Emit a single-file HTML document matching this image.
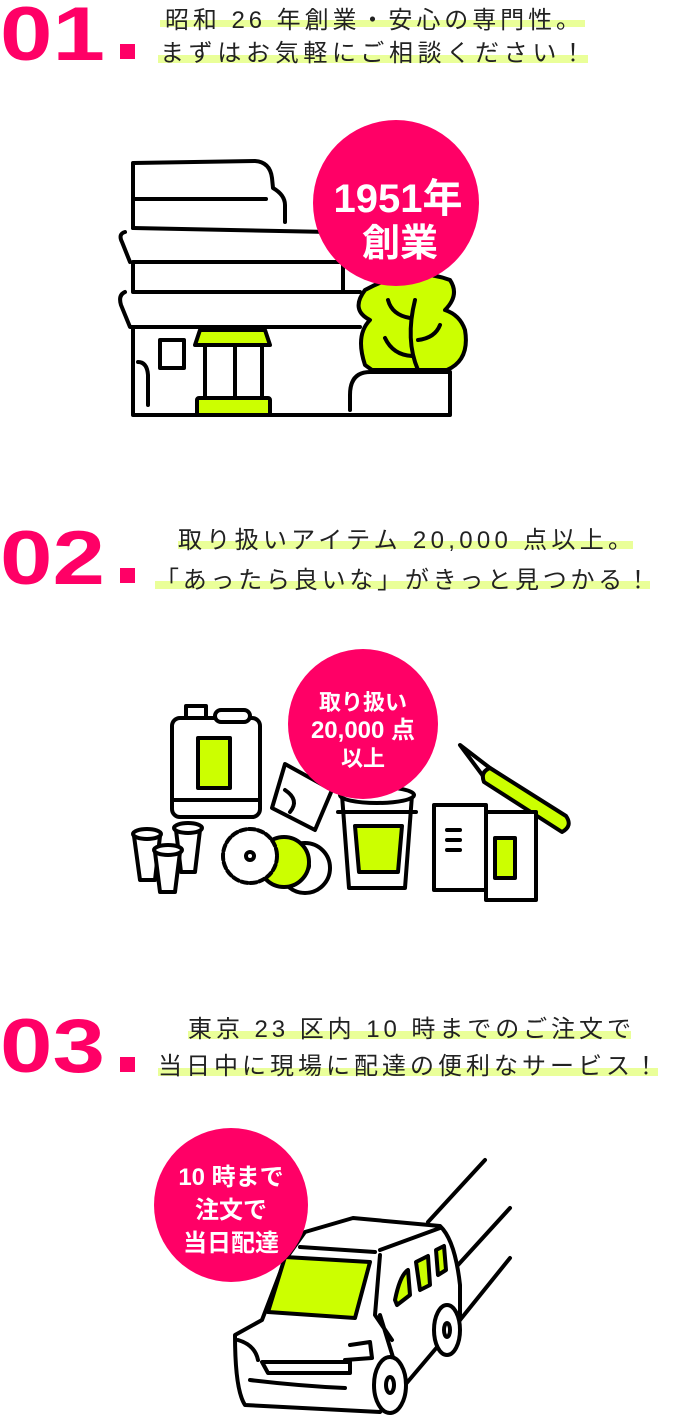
<!DOCTYPE html>
<html><head><meta charset="utf-8"><style>
html,body{margin:0;padding:0;background:#fff;}
svg{display:block;}
text{font-family:"Liberation Sans","Noto Sans CJK JP",sans-serif;}
.jp{font-size:24px;fill:#222;}
.num{font-size:76px;font-weight:bold;fill:#ff0066;}
.bt{font-family:"Liberation Sans","Noto Sans CJK JP",sans-serif;font-weight:bold;fill:#fff;}
.s{fill:none;stroke:#000;stroke-width:4;stroke-linecap:round;stroke-linejoin:round;}
.w{fill:#fff;stroke:#000;stroke-width:4;stroke-linecap:round;stroke-linejoin:round;}
.l{fill:#ccff00;stroke:#000;stroke-width:4;stroke-linecap:round;stroke-linejoin:round;}
</style></head><body>
<svg width="690" height="1422" viewBox="0 0 690 1422" xmlns="http://www.w3.org/2000/svg">
<!-- 01 header -->
<rect x="160" y="20" width="425" height="7" fill="#eaff99"/>
<rect x="158" y="55" width="430" height="8" fill="#eaff99"/>
<text class="num" x="0" y="60" textLength="105" lengthAdjust="spacingAndGlyphs">01</text>
<rect x="120" y="44" width="15" height="15" fill="#ff0066"/>
<text class="jp" x="165" y="28" textLength="415" lengthAdjust="spacing">昭和 26 年創業・安心の専門性。</text>
<text class="jp" x="160" y="61" textLength="425" lengthAdjust="spacing">まずはお気軽にご相談ください！</text>

<!-- building -->
<path class="s" d="M133,228 V163 L255,161 Q270,162 272,178 L273,188 Q285,195 285,205 V222"/>
<path class="s" d="M133,199 H266"/>
<path class="s" d="M133,228 L330,232"/>
<path class="s" d="M125,232 Q118,234 122,242 L130,262"/>
<path class="s" d="M133,262 H340 M133,262 V292 M133,292 H360 M343,262 V290"/>
<path class="s" d="M125,292 Q118,295 121,305 L130,327 H360"/>
<path class="s" d="M133,327 V415 H450 V372 H370 Q350,372 350,395 V410"/>
<path class="s" d="M138,362 Q147,362 148,375 V405"/>
<rect class="s" x="160" y="340" width="24" height="28"/>
<path class="l" d="M200,330 H265 L270,345 H195 Z"/>
<path class="s" d="M205,345 V400 M235,345 V400 M262,345 V400"/>
<rect class="l" x="197" y="398" width="73" height="17" rx="2"/>
<path class="l" d="M365,290 Q350,310 370,320 Q355,335 365,365 L372,370 H447 Q470,360 465,330 Q460,315 445,310 Q460,295 450,280 Q410,265 365,290 Z"/>
<path class="s" d="M388,300 Q392,315 410,318 M385,338 Q393,355 412,356 M415,300 Q405,340 418,370 M418,340 Q435,338 440,325"/>
<circle cx="396" cy="203" r="83" fill="#ff0066"/>
<text class="bt" x="398" y="212" font-size="40" text-anchor="middle">1951年</text>
<text class="bt" x="400" y="256" font-size="38" text-anchor="middle">創業</text>

<!-- 02 header -->
<rect x="178" y="541" width="455" height="8" fill="#eaff99"/>
<rect x="155" y="581" width="495" height="8" fill="#eaff99"/>
<text class="num" x="0" y="584" textLength="105" lengthAdjust="spacingAndGlyphs">02</text>
<rect x="120" y="568" width="15" height="15" fill="#ff0066"/>
<text class="jp" x="178" y="548" textLength="454" lengthAdjust="spacing">取り扱いアイテム 20,000 点以上。</text>
<text class="jp" x="155" y="588" textLength="495" lengthAdjust="spacing">「あったら良いな」がきっと見つかる！</text>

<!-- items -->
<rect class="w" x="172" y="718" width="88" height="99" rx="8"/>
<path class="s" d="M172,800 H260"/>
<rect class="w" x="186" y="706" width="20" height="12"/>
<rect class="w" x="215" y="710" width="35" height="12" rx="6"/>
<rect class="l" x="198" y="738" width="32" height="50"/>
<g>
<path class="w" d="M134,836 L140,880 H155 L160,836 Z"/><ellipse class="w" cx="147" cy="834" rx="14" ry="5"/>
<path class="w" d="M176,830 L181,872 H195 L200,830 Z"/><ellipse class="w" cx="188" cy="828" rx="14" ry="5"/>
<path class="w" d="M155,852 L160,892 H175 L180,852 Z"/><ellipse class="w" cx="168" cy="850" rx="14" ry="5"/>
</g>
<circle class="w" cx="305" cy="868" r="25"/><circle class="s" cx="305" cy="866" r="4"/>
<circle class="l" cx="284" cy="862" r="25"/>
<circle class="w" cx="250" cy="856" r="27" stroke-dasharray="6 3"/>
<circle class="s" cx="250" cy="856" r="4"/>
<path class="w" d="M285,764 L332,790 L315,830 L272,808 Z"/>
<path class="s" d="M285,790 Q300,800 290,812"/>
<path class="w" d="M342,795 H412 L405,888 H349 Z"/>
<ellipse class="w" cx="377" cy="795" rx="37" ry="8"/>
<path class="s" d="M338,812 H416"/>
<path class="l" d="M355,826 H402 L398,872 H359 Z"/>
<path class="w" d="M460,745 L490,768 L566,818 Q572,828 562,830 L486,780 Z"/>
<path class="l" d="M490,768 L566,816 Q573,826 562,832 L484,782 Q480,772 490,768 Z"/>
<rect class="w" x="434" y="805" width="52" height="85"/>
<path class="s" d="M447,830 H460 M447,840 H460 M447,850 H460"/>
<rect class="w" x="486" y="812" width="50" height="88"/>
<rect class="l" x="495" y="838" width="20" height="40"/>

<circle cx="363" cy="724" r="75" fill="#ff0066"/>
<text class="bt" x="363" y="710" font-size="22" text-anchor="middle">取り扱い</text>
<text class="bt" x="363" y="738" font-size="24" text-anchor="middle">20,000 点</text>
<text class="bt" x="363" y="766" font-size="22" text-anchor="middle">以上</text>

<!-- 03 header -->
<rect x="188" y="1031" width="443" height="8" fill="#eaff99"/>
<rect x="158" y="1068" width="500" height="8" fill="#eaff99"/>
<text class="num" x="0" y="1072" textLength="105" lengthAdjust="spacingAndGlyphs">03</text>
<rect x="120" y="1057" width="15" height="15" fill="#ff0066"/>
<text class="jp" x="188" y="1037" textLength="443" lengthAdjust="spacing">東京 23 区内 10 時までのご注文で</text>
<text class="jp" x="158" y="1074" textLength="500" lengthAdjust="spacing">当日中に現場に配達の便利なサービス！</text>

<!-- van -->
<path class="s" d="M485,1160 L428,1222 M510,1208 L458,1265 M510,1258 L460,1320"/>
<path class="w" d="M305,1232 L353,1218 L440,1226 Q455,1240 460,1285 L460,1320 L405,1385 L380,1412 L245,1405 Q235,1390 235,1335 L262,1320 L285,1260 Z"/>
<path class="s" d="M300,1247 L375,1252 M380,1250 L440,1228"/>
<path class="l" d="M285,1257 L370,1262 L355,1318 L268,1312 Z"/>
<path class="s" d="M380,1255 L375,1315 L392,1340 M380,1315 L400,1380"/>
<path class="l" d="M395,1300 Q400,1275 408,1270 L410,1295 L397,1305 Z"/>
<path class="l" d="M416,1262 L428,1256 L430,1285 L420,1290 Z"/>
<path class="l" d="M436,1250 L444,1246 L446,1270 L438,1275 Z"/>
<path class="s" d="M238,1340 Q255,1345 258,1360 M262,1362 H350 V1373 H268 Z M250,1380 Q300,1386 345,1388 M350,1345 L370,1342 L372,1358 L345,1360"/>
<ellipse class="w" cx="390" cy="1385" rx="16" ry="28"/>
<ellipse class="s" cx="390" cy="1385" rx="4" ry="8"/>
<ellipse class="w" cx="447" cy="1330" rx="13" ry="25"/>
<ellipse class="s" cx="447" cy="1330" rx="3" ry="7"/>
<circle cx="231" cy="1205" r="77" fill="#ff0066"/>
<text class="bt" x="231" y="1185" font-size="24" text-anchor="middle">10 時まで</text>
<text class="bt" x="231" y="1218" font-size="24" text-anchor="middle">注文で</text>
<text class="bt" x="231" y="1251" font-size="24" text-anchor="middle">当日配達</text>
</svg>
</body></html>
